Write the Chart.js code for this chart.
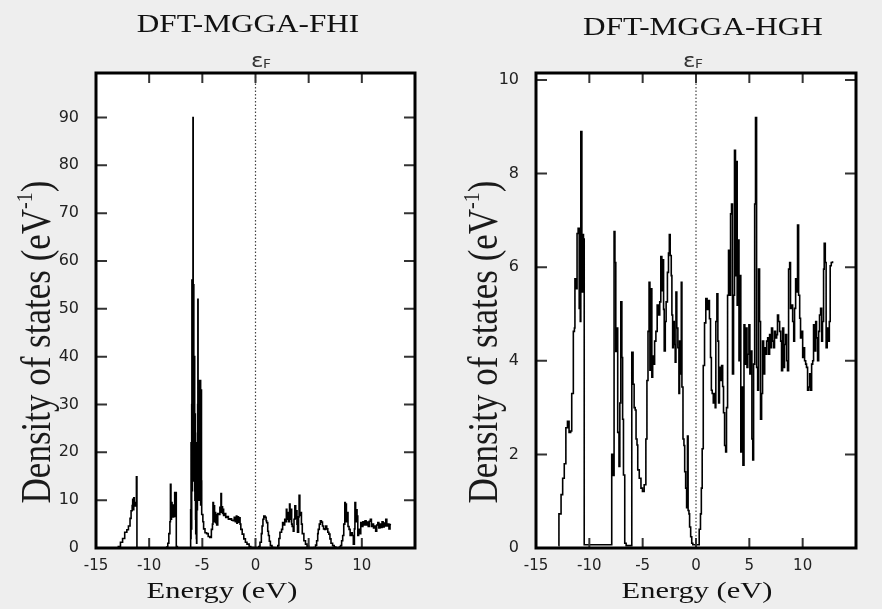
<!DOCTYPE html>
<html>
<head>
<meta charset="utf-8">
<script src="https://cdn.jsdelivr.net/npm/chart.js@4.4.0/dist/chart.umd.min.js"></script>
<style>
  html, body { margin: 0; padding: 0; background: #eeeeee; }
  .panel { position: absolute; top: 0; width: 441px; height: 609px; }
  #leftPanel { left: 0; }
  #rightPanel { left: 441px; }
</style>
</head>
<body>
<div class="panel" id="leftPanel"><canvas id="fhiChart" width="441" height="609"></canvas></div>
<div class="panel" id="rightPanel"><canvas id="hghChart" width="441" height="609"></canvas></div>
<script>
// DOS (energy in eV, states per eV)
const fhiEnergy = [
  -13.2, -12.9, -12.7, -12.5, -12.3, -12.1, -11.95, -11.8, -11.7, -11.6, -11.55, -11.5, -11.45, -11.4, -11.3, -11.2, -11.15,
  -8.35, -8.25, -8.15, -8.05, -8.0, -7.95, -7.9, -7.85, -7.8, -7.75, -7.7, -7.65, -7.6, -7.55, -7.5, -7.45, -7.35,
  -6.15, -6.1, -6.08, -6.06, -6.04, -6.02, -6.0, -5.98, -5.96, -5.94, -5.92, -5.9, -5.88, -5.86, -5.84, -5.82, -5.8,
  -5.78, -5.76, -5.74, -5.72, -5.7, -5.68, -5.66, -5.64, -5.62, -5.6, -5.58, -5.56, -5.54,
  -5.52, -5.5, -5.48, -5.46, -5.44, -5.42, -5.4, -5.38, -5.36, -5.34, -5.32, -5.3, -5.28, -5.26, -5.24, -5.22,
  -5.2, -5.18, -5.16, -5.14, -5.12, -5.1, -5.08, -5.06,
  -4.95, -4.88, -4.75, -4.6, -4.45, -4.3, -4.15, -4.05, -4.0, -3.95, -3.9, -3.85, -3.8, -3.75, -3.7, -3.65, -3.55,
  -3.45, -3.35, -3.25, -3.2, -3.15, -3.1, -3.05, -3.0, -2.9, -2.8, -2.7, -2.55, -2.4, -2.25, -2.1, -2.0, -1.9, -1.8,
  -1.75, -1.7, -1.6, -1.55, -1.45, -1.38, -1.25, -1.1, -0.95, -0.8, -0.6, -0.45, -0.25,
  0.3, 0.42, 0.55, 0.62, 0.7, 0.78, 0.9, 1.0, 1.05, 1.15, 1.22, 1.3, 1.4, 1.55, 1.7,
  2.1, 2.2, 2.3, 2.45, 2.55, 2.65, 2.75, 2.85, 2.9, 2.95, 3.05, 3.1, 3.2, 3.25, 3.35, 3.4, 3.45, 3.55, 3.62, 3.7,
  3.78, 3.85, 3.9, 3.95, 4.05, 4.1, 4.17, 4.25, 4.32, 4.4, 4.55, 4.7, 4.85, 5.0,
  5.5, 5.65, 5.75, 5.85, 5.9, 6.0, 6.1, 6.2, 6.3, 6.4, 6.5, 6.6, 6.7, 6.8, 6.9, 7.0, 7.1, 7.25, 7.4, 7.55,
  7.9, 8.0, 8.1, 8.2, 8.3, 8.4, 8.45, 8.5, 8.55, 8.65, 8.7, 8.8, 8.9, 9.0, 9.1, 9.2, 9.3, 9.35, 9.42, 9.5, 9.55,
  9.62, 9.7, 9.8, 9.9, 10.0, 10.1, 10.2, 10.3, 10.4, 10.5, 10.6, 10.7, 10.8, 10.9, 11.0, 11.1, 11.2, 11.3, 11.4,
  11.5, 11.6, 11.7, 11.8, 11.9, 12.0, 12.1, 12.2, 12.25, 12.35, 12.45, 12.55, 12.65, 12.75
];
const fhiDos = [
  0, 0.3, 1.2, 2.0, 3.3, 3.8, 4.6, 6.2, 7.8, 8.9, 10.2, 8.0, 10.5, 8.8, 9.5, 14.9, 0,
  0.2, 1.0, 3.0, 5.5, 13.3, 6.0, 9.5, 7.0, 8.6, 6.5, 9.0, 6.6, 11.6, 7.0, 11.6, 0.3, 0,
  0, 8, 2, 22, 6, 4, 30, 56, 12, 18, 40, 56, 90, 24, 45, 55, 14,
  19, 36, 40, 12, 10, 28, 24, 6, 3, 20, 18, 2, 1,
  15, 22, 8, 14, 30, 52, 12, 18, 30, 35, 10, 15, 28, 34, 12, 20,
  30, 35, 9, 16, 26, 33, 14, 7,
  5.5, 4, 3.2, 3.0, 2.4, 2.2, 3.9, 5, 9.5, 6, 8.8, 5.5, 7.4, 5.3, 7.0, 4.8, 7.2,
  7.0, 8.5, 11.4, 7.5, 8.6, 7.2, 8.1, 6.8, 7.2, 6.4, 6.6, 6.0, 6.1, 5.8, 5.7, 6.4, 5.5, 6.7,
  5.2, 6.5, 5.4, 6.3, 5.0, 3.9, 2.9, 1.9, 1.2, 0.8, 0.3, 0.1, 0,
  0.3, 1.2, 3.0, 4.6, 6.0, 6.7, 6.4, 5.7, 5.3, 3.5, 2.6, 1.4, 0.5, 0.1, 0,
  0.5, 2.0, 3.3, 3.9, 5.3, 4.8, 6.0, 5.5, 8.1, 6.0, 7.4, 5.5, 9.2, 6.0, 8.1, 5.0, 4.5, 3.5, 6.0, 8.8,
  6.2, 7.8, 5.0, 3.3, 6.5, 11.0, 6.8, 7.4, 5.0, 3.0, 1.5, 0.8, 0.4, 0,
  0.1, 0.6, 1.5, 3.0, 3.9, 5.0, 5.7, 5.4, 4.6, 4.0, 3.9, 4.6, 4.0, 3.3, 2.9, 1.9, 1.0, 0.5, 0.2, 0,
  0.2, 0.5, 1.5, 2.6, 5.0, 9.5, 6.0, 9.2, 5.5, 7.4, 4.5, 3.9, 2.6, 3.2, 2.6, 0.8, 4.0, 9.5, 5.5, 8.0, 6.7,
  2.6, 3.9, 3.0, 5.3, 4.5, 5.5, 4.8, 5.7, 4.8, 5.4, 4.5, 5.6, 6.0, 4.5, 5.0, 4.2, 4.6, 3.5, 4.8,
  5.3, 4.2, 5.0, 4.3, 5.5, 4.4, 5.2, 4.6, 6.0, 4.6, 5.0, 4.0, 4.9, 4.9
];

const hghEnergy = [
  -12.9, -12.85, -12.65, -12.5, -12.35, -12.2, -12.05, -11.9, -11.75, -11.65, -11.5, -11.4, -11.35, -11.25, -11.15,
  -11.05, -10.95, -10.85, -10.8, -10.7, -10.62, -10.55, -10.48,
  -7.9, -7.78, -7.68, -7.6, -7.52, -7.44, -7.34, -7.22, -7.14, -7.05, -6.95, -6.88, -6.8, -6.68, -6.55,
  -6.02, -5.9, -5.8, -5.7, -5.62, -5.53, -5.46, -5.32, -5.16, -5.02, -4.86, -4.7, -4.6, -4.5, -4.4, -4.32, -4.24,
  -4.14, -4.06, -3.98, -3.88, -3.76, -3.64, -3.52, -3.4, -3.3, -3.2, -3.12, -3.04, -2.98, -2.88, -2.8, -2.68, -2.58,
  -2.5, -2.42, -2.32, -2.26, -2.19, -2.12, -2.04, -1.95, -1.88, -1.8, -1.7, -1.6, -1.54, -1.47, -1.38, -1.32, -1.22,
  -1.13, -1.06, -0.97, -0.88, -0.8, -0.74, -0.66, -0.6, -0.5, -0.4, -0.3,
  0.3, 0.42, 0.5, 0.58, 0.68, 0.8, 0.92, 1.04, 1.16, 1.26, 1.36, 1.44, 1.52, 1.62, 1.7, 1.8, 1.86, 1.96, 2.05, 2.12,
  2.2, 2.3, 2.4, 2.5, 2.58, 2.68, 2.78, 2.86, 2.96, 3.05, 3.15, 3.24, 3.33, 3.42, 3.52, 3.61, 3.7, 3.77, 3.86, 3.95,
  4.03, 4.11, 4.2, 4.3, 4.4, 4.5, 4.58, 4.68, 4.78, 4.86, 4.96, 5.05, 5.15, 5.24, 5.32, 5.4, 5.5, 5.58, 5.68, 5.78,
  5.86, 5.96, 6.05, 6.15, 6.24, 6.34, 6.44, 6.52, 6.62, 6.72, 6.8, 6.9, 7.0, 7.08, 7.18, 7.28, 7.36, 7.46, 7.56,
  7.64, 7.74, 7.84, 7.94, 8.02, 8.12, 8.22, 8.3, 8.4, 8.5, 8.58, 8.68, 8.78, 8.86, 8.96, 9.06, 9.16, 9.24, 9.34,
  9.44, 9.52, 9.62, 9.72, 9.8, 9.9, 10.0, 10.08, 10.18, 10.28, 10.36, 10.46, 10.56, 10.66, 10.74, 10.84, 10.94,
  11.02, 11.12, 11.22, 11.3, 11.4, 11.5, 11.58, 11.68, 11.78, 11.86, 11.96, 12.02, 12.12, 12.2, 12.3, 12.4, 12.5,
  12.58, 12.68, 12.8
];
const hghDos = [
  0.05, 0.73, 1.14, 1.49, 1.8, 2.57, 2.71, 2.47, 2.5, 3.3, 4.63, 4.7, 5.75, 5.54, 6.72,
  6.83, 5.12, 4.84, 8.9, 5.47, 6.7, 6.6, 0.07,
  2.0, 1.55, 6.76, 6.1, 4.2, 4.7, 2.47, 1.74, 3.1, 5.26, 4.07, 2.75, 1.56, 0.1, 0.05,
  4.18, 3.5, 3.0, 2.95, 2.33, 2.2, 1.67, 1.49, 1.28, 1.21, 1.35, 2.33, 3.58, 4.63, 5.68, 3.8, 5.54,
  3.65, 4.1, 3.93, 4.42, 4.63, 5.19, 4.98, 5.26, 6.23, 5.5, 6.16, 5.1, 4.21, 4.84, 5.26, 5.89, 6.3,
  6.7, 6.25, 5.82, 4.98, 4.28, 4.84, 4.35, 3.97, 5.47, 4.7, 4.28, 3.3, 4.42, 3.72, 5.68, 3.44, 2.33,
  2.19, 1.63, 1.28, 0.86, 2.39, 0.8, 0.73, 0.45, 0.24, 0.1, 0.07,
  0.4, 0.73, 1.28, 2.12, 3.9, 4.81, 5.33, 5.1, 5.29, 4.9, 4.07, 3.37, 3.3, 3.1, 3.3, 3.0, 4.84, 5.43, 4.42, 3.1,
  3.86, 3.58, 3.9, 3.45, 2.89, 2.19, 2.05, 3.0, 5.4, 6.36, 5.4, 7.14, 7.35, 3.72, 5.4, 8.5, 5.82, 8.26, 5.19, 6.58,
  4.0, 5.82, 2.05, 3.44, 1.77, 4.77, 3.93, 4.7, 3.86, 4.14, 4.77, 3.72, 4.21, 2.33, 1.88, 3.93, 7.35, 9.2, 3.86, 3.37,
  5.96, 4.84, 2.75, 3.3, 4.42, 3.72, 4.28, 4.14, 4.42, 4.49, 4.14, 4.56, 4.28, 4.7, 4.42, 4.28, 4.63, 4.49, 4.56,
  4.98, 4.84, 4.63, 4.42, 3.79, 4.7, 3.86, 4.35, 4.56, 4.0, 3.79, 5.96, 6.1, 5.12, 5.19, 4.84, 4.42, 5.12, 5.75,
  5.47, 6.9, 5.4, 4.91, 4.49, 4.63, 4.07, 4.28, 4.0, 3.93, 3.86, 3.37, 3.44, 3.72, 3.37, 3.93, 4.0,
  4.77, 4.21, 4.84, 4.49, 4.0, 4.63, 4.98, 5.12, 4.42, 4.84, 5.96, 6.51, 6.1, 4.28, 4.7, 4.42, 4.84,
  6.03, 6.1, 6.13
];

const xTickValues = [-15, -10, -5, 0, 5, 10];
const xMarkValues = [-10, -5, 0, 5, 10];
const fhiYTickValues = [0, 10, 20, 30, 40, 50, 60, 70, 80, 90];
const fhiYMarkValues = [10, 20, 30, 40, 50, 60, 70, 80, 90];
const hghYTickValues = [0, 2, 4, 6, 8, 10];
const hghYMarkValues = [2, 4, 6, 8, 10];

const SERIF = '"Liberation Serif", "Times New Roman", serif';
const SANS = '"DejaVu Sans", sans-serif';

function stretchedText(ctx, text, x, y, font, sx, align) {
    ctx.save();
    ctx.translate(x, y);
    ctx.scale(sx, 1);
    ctx.font = font;
    ctx.textAlign = align || 'center';
    ctx.textBaseline = 'alphabetic';
    ctx.fillText(text, 0, 0);
    ctx.restore();
}

function drawYLabel(ctx, baseX, centerY) {
    ctx.save();
    ctx.translate(baseX, centerY);
    ctx.rotate(-Math.PI / 2);
    ctx.scale(1, 1.2);
    ctx.fillStyle = '#1a1a1a';
    ctx.textAlign = 'left';
    ctx.textBaseline = 'alphabetic';
    const main = 'Density of states (eV';
    ctx.font = '35px ' + SERIF;
    const w1 = ctx.measureText(main).width;
    const w3 = ctx.measureText(')').width;
    ctx.font = '20px ' + SERIF;
    const w2 = ctx.measureText('-1').width;
    let x = -(w1 + w2 + w3) / 2;
    ctx.font = '35px ' + SERIF;
    ctx.fillText(main, x, 0);
    x += w1;
    ctx.font = '20px ' + SERIF;
    ctx.fillText('-1', x, -15);
    x += w2;
    ctx.font = '35px ' + SERIF;
    ctx.fillText(')', x, 0);
    ctx.restore();
}

// gnuplot look: white plot area, heavy frame, inward mirrored ticks, dotted Fermi line
const gnuplotFrame = {
    id: 'gnuplotFrame',
    beforeDraw(chart) {
        const a = chart.chartArea;
        const ctx = chart.ctx;
        ctx.save();
        ctx.fillStyle = '#ffffff';
        ctx.fillRect(a.left, a.top, a.right - a.left, a.bottom - a.top);
        ctx.restore();
    },
    beforeDatasetsDraw(chart) {
        const a = chart.chartArea;
        const ctx = chart.ctx;
        const x0 = chart.scales.x.getPixelForValue(0);
        ctx.save();
        ctx.strokeStyle = '#444';
        ctx.lineWidth = 1.2;
        ctx.setLineDash([1.5, 2]);
        ctx.beginPath();
        ctx.moveTo(x0, a.top);
        ctx.lineTo(x0, a.bottom);
        ctx.stroke();
        ctx.restore();
    },
    afterDraw(chart, args, opts) {
        const a = chart.chartArea;
        const ctx = chart.ctx;
        const xs = chart.scales.x;
        const ys = chart.scales.y;
        ctx.save();
        ctx.strokeStyle = '#333';
        ctx.lineWidth = 2;
        ctx.beginPath();
        opts.yMarks.forEach(v => {
            const y = ys.getPixelForValue(v);
            ctx.moveTo(a.left, y); ctx.lineTo(a.left + 11, y);
            ctx.moveTo(a.right, y); ctx.lineTo(a.right - 11, y);
        });
        xMarkValues.forEach(v => {
            const x = xs.getPixelForValue(v);
            ctx.moveTo(x, a.bottom); ctx.lineTo(x, a.bottom - 10);
            ctx.moveTo(x, a.top); ctx.lineTo(x, a.top + 10);
        });
        ctx.stroke();

        ctx.strokeStyle = '#000';
        ctx.lineWidth = 3;
        ctx.strokeRect(a.left, a.top, a.right - a.left, a.bottom - a.top);

        ctx.fillStyle = '#111';
        stretchedText(ctx, opts.title, opts.titleX, opts.titleY, '26px ' + SERIF, 1.2);
        stretchedText(ctx, 'Energy (eV)', opts.energyX, 598, '24px ' + SERIF, 1.27);
        drawYLabel(ctx, opts.labelX, 342);

        ctx.fillStyle = '#333';
        stretchedText(ctx, '\u03B5', opts.epsX, 67, '20px ' + SANS, 1.15, 'left');
        stretchedText(ctx, 'F', opts.epsX + 12, 68, '12px ' + SANS, 1.15, 'left');
        ctx.restore();
    }
};

function makeChart(canvasId, energy, dos, yMax, yTicks, frameOpts, leftWidth) {
    const ctx = document.getElementById(canvasId).getContext('2d');
    return new Chart(ctx, {
        type: 'line',
        data: {
            datasets: [{
                data: energy.map((e, i) => ({ x: e, y: dos[i] })),
                borderColor: '#000',
                borderWidth: 1.6,
                pointRadius: 0,
                stepped: true,
                fill: false
            }]
        },
        options: {
            responsive: false,
            animation: false,
            layout: { padding: { left: 0, right: 26, top: 73, bottom: 0 } },
            plugins: {
                legend: { display: false },
                tooltip: { enabled: false },
                gnuplotFrame: frameOpts
            },
            scales: {
                x: {
                    type: 'linear',
                    min: -15,
                    max: 15,
                    grid: { display: false, drawTicks: false },
                    border: { display: false },
                    afterBuildTicks: scale => { scale.ticks = xTickValues.map(v => ({ value: v })); },
                    afterFit: scale => { scale.height = 61; },
                    ticks: {
                        padding: 9,
                        color: '#222',
                        font: { family: 'DejaVu Sans', size: 15 },
                        maxRotation: 0
                    }
                },
                y: {
                    type: 'linear',
                    min: 0,
                    max: yMax,
                    grid: { display: false, drawTicks: false },
                    border: { display: false },
                    afterBuildTicks: scale => { scale.ticks = yTicks.map(v => ({ value: v })); },
                    afterFit: scale => { scale.width = leftWidth; },
                    ticks: {
                        padding: 17,
                        color: '#222',
                        font: { family: 'DejaVu Sans', size: 16 }
                    }
                }
            }
        },
        plugins: [gnuplotFrame]
    });
}

makeChart('fhiChart', fhiEnergy, fhiDos, 99.3, fhiYTickValues, {
    title: 'DFT-MGGA-FHI', titleX: 248, titleY: 32,
    energyX: 222, labelX: 50, epsX: 251,
    yMarks: fhiYMarkValues
}, 96);

makeChart('hghChart', hghEnergy, hghDos, 10.15, hghYTickValues, {
    title: 'DFT-MGGA-HGH', titleX: 262, titleY: 35,
    energyX: 256, labelX: 56, epsX: 242,
    yMarks: hghYMarkValues
}, 95);
</script>
</body>
</html>
